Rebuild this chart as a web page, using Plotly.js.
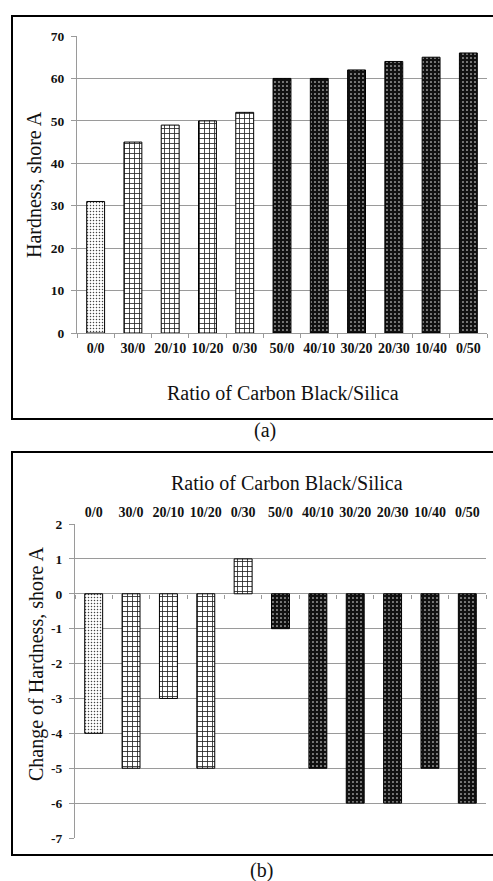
<!DOCTYPE html>
<html>
<head>
<meta charset="utf-8">
<script src="https://cdn.plot.ly/plotly-3.0.1.min.js"></script>
<style>html,body{margin:0;padding:0;background:#fff;}#chart{width:493px;height:881px;}</style>
</head>
<body>
<div id="chart"></div>
<script>
// ---- data ----
const categories = ['0/0','30/0','20/10','10/20','0/30','50/0','40/10','30/20','20/30','10/40','0/50'];
const hardness = [31, 45, 49, 50, 52, 60, 60, 62, 64, 65, 66];
const hardnessChange = [-4, -5, -3, -5, 1, -1, -5, -6, -6, -5, -6];
const fillerTotal = [0, 30, 30, 30, 30, 50, 50, 50, 50, 50, 50];
const fillerGroups = [0, 30, 50];
const hardnessTicks = [0, 10, 20, 30, 40, 50, 60, 70];
const changeTicks = [2, 1, 0, -1, -2, -3, -4, -5, -6, -7];

// ---- styles ----
const W = 493, H = 881;
const px = v => v / W;
const py = v => 1 - v / H;
const FONT = '"Liberation Serif", "Times New Roman", "DejaVu Serif", serif';
const groupStyle = {
  0:  {shape: '.', fgcolor: '#444', bgcolor: '#fff', size: 3, solidity: 0.2},
  30: {shape: '+', fgcolor: '#222', bgcolor: '#fff', size: 5, solidity: 0.3},
  50: {shape: '.', fgcolor: '#fff', bgcolor: '#111', size: 4, solidity: 0.12}
};

const traces = [];
fillerGroups.forEach(g => {
  const idx = fillerTotal.map((f, i) => f === g ? i : -1).filter(i => i >= 0);
  const st = groupStyle[g];
  const marker = {
    color: st.bgcolor,
    line: {color: '#000', width: 1},
    pattern: {shape: st.shape, fgcolor: st.fgcolor, bgcolor: st.bgcolor, size: st.size, solidity: st.solidity, fillmode: 'replace'}
  };
  traces.push({type: 'bar', x: idx.map(i => categories[i]), y: idx.map(i => hardness[i]),
    xaxis: 'x', yaxis: 'y', marker: marker, showlegend: false, hoverinfo: 'x+y'});
  traces.push({type: 'bar', x: idx.map(i => categories[i]), y: idx.map(i => hardnessChange[i]),
    xaxis: 'x2', yaxis: 'y2', marker: marker, showlegend: false, hoverinfo: 'x+y'});
});
// helper trace so the tick marks along the zero line of chart (b) are drawn
traces.push({type: 'scatter', mode: 'markers', x: categories, y: categories.map(() => 0),
  xaxis: 'x3', yaxis: 'y2', marker: {opacity: 0, size: 1}, showlegend: false, hoverinfo: 'skip'});

const gridCol = '#9a9a9a';
const tickFontBold = {family: FONT, size: 14, color: '#111', weight: 'bold'};
const yTickFont = {family: FONT, size: 13.5, color: '#111', weight: 'bold'};

const layout = {
  width: W, height: H,
  margin: {l: 0, r: 0, t: 0, b: 0},
  paper_bgcolor: '#fff', plot_bgcolor: '#fff',
  font: {family: FONT, color: '#111'},
  barmode: 'overlay', bargap: 0.52,
  showlegend: false,
  xaxis: {
    domain: [px(77), px(487)], anchor: 'y', type: 'category',
    categoryorder: 'array', categoryarray: categories, range: [-0.5, categories.length - 0.5],
    showline: true, linecolor: gridCol, linewidth: 1,
    ticks: 'outside', tickson: 'boundaries', ticklen: 4, tickcolor: gridCol,
    showgrid: false, tickfont: tickFontBold, tickangle: 0, ticklabelstandoff: 2
  },
  yaxis: {
    domain: [py(333), py(36)], anchor: 'x', range: [0, 70],
    tickmode: 'array', tickvals: hardnessTicks, ticktext: hardnessTicks.map(String),
    showgrid: true, gridcolor: gridCol, gridwidth: 1,
    showline: true, linecolor: gridCol, linewidth: 1,
    ticks: 'outside', ticklen: 5, tickcolor: gridCol,
    zeroline: false, tickfont: yTickFont, ticklabelstandoff: 4
  },
  xaxis2: {
    domain: [px(75), px(486)], anchor: 'y2', side: 'top', type: 'category',
    categoryorder: 'array', categoryarray: categories, range: [-0.5, categories.length - 0.5],
    showline: false, ticks: '', showgrid: false, tickfont: tickFontBold, tickangle: 0, ticklabelstandoff: 3
  },
  xaxis3: {
    overlaying: 'x2', anchor: 'free', position: py(594), type: 'category',
    categoryorder: 'array', categoryarray: categories, range: [-0.5, categories.length - 0.5],
    showline: false, showgrid: false, showticklabels: false,
    ticks: 'outside', tickson: 'boundaries', ticklen: 4, tickcolor: gridCol
  },
  yaxis2: {
    domain: [py(838), py(524)], anchor: 'x2', range: [-7, 2],
    tickmode: 'array', tickvals: changeTicks, ticktext: changeTicks.map(String),
    showgrid: true, gridcolor: gridCol, gridwidth: 1,
    showline: true, linecolor: gridCol, linewidth: 1,
    ticks: 'outside', ticklen: 5, tickcolor: gridCol,
    zeroline: true, zerolinecolor: gridCol, zerolinewidth: 1,
    tickfont: yTickFont, ticklabelstandoff: 4
  },
  shapes: [
    {type: 'rect', xref: 'paper', yref: 'paper', x0: px(12), x1: px(500), y0: py(419), y1: py(16),
     line: {color: '#000', width: 2}, fillcolor: 'rgba(0,0,0,0)', layer: 'above'},
    {type: 'rect', xref: 'paper', yref: 'paper', x0: px(12), x1: px(500), y0: py(855), y1: py(452),
     line: {color: '#000', width: 2}, fillcolor: 'rgba(0,0,0,0)', layer: 'above'}
  ],
  annotations: [
    {text: 'Hardness, shore A', xref: 'paper', yref: 'paper', x: px(34), y: py(185), textangle: -90,
     xanchor: 'center', yanchor: 'middle', showarrow: false, font: {family: FONT, size: 20, color: '#111'}},
    {text: 'Ratio of Carbon Black/Silica', xref: 'paper', yref: 'paper', x: px(283), y: py(393),
     xanchor: 'center', yanchor: 'middle', showarrow: false, font: {family: FONT, size: 20, color: '#111'}},
    {text: '(a)', xref: 'paper', yref: 'paper', x: px(265), y: py(431),
     xanchor: 'center', yanchor: 'middle', showarrow: false, font: {family: FONT, size: 20, color: '#111'}},
    {text: 'Ratio of Carbon Black/Silica', xref: 'paper', yref: 'paper', x: px(287), y: py(483),
     xanchor: 'center', yanchor: 'middle', showarrow: false, font: {family: FONT, size: 20, color: '#111'}},
    {text: 'Change of Hardness, shore A', xref: 'paper', yref: 'paper', x: px(36), y: py(664), textangle: -90,
     xanchor: 'center', yanchor: 'middle', showarrow: false, font: {family: FONT, size: 20, color: '#111'}},
    {text: '(b)', xref: 'paper', yref: 'paper', x: px(261), y: py(870),
     xanchor: 'center', yanchor: 'middle', showarrow: false, font: {family: FONT, size: 20, color: '#111'}}
  ]
};

Plotly.newPlot('chart', traces, layout, {displayModeBar: false, staticPlot: true});
</script>
</body>
</html>
